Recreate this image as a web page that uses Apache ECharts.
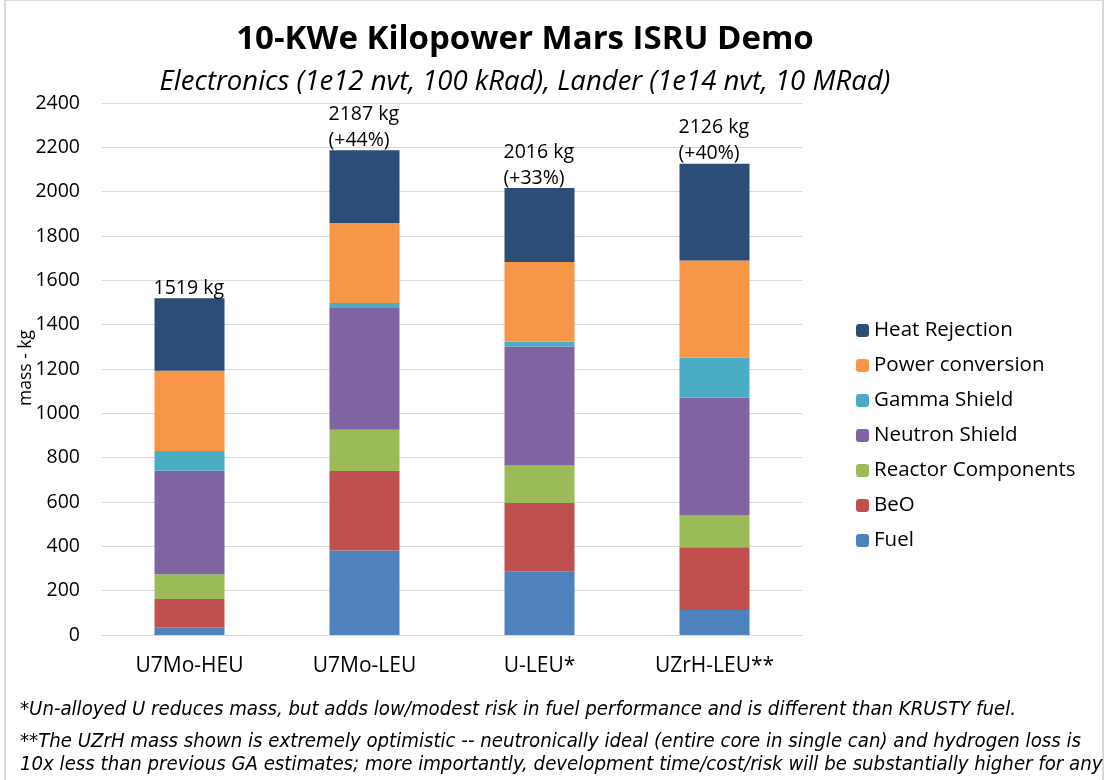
<!DOCTYPE html>
<html>
<head>
    <meta charset="utf-8">
    <title>Kilopower Mars ISRU</title>
    <script src="https://cdn.jsdelivr.net/npm/echarts@6/dist/echarts.min.js"></script>
    <style type="text/css">
    html,body{margin:0;padding:0;background:#fff;}
    #main{width:1107px;height:780px;}
    </style>
</head>
<body>
<div id="main"></div>
<script>
    var categories = ['U7Mo-HEU', 'U7Mo-LEU', 'U-LEU*', 'UZrH-LEU**'];
    var fuel       = [35, 381, 288, 113];
    var beo        = [127, 359, 308, 283];
    var reactor    = [112, 186, 169, 143];
    var neutron    = [467, 549, 536, 531];
    var gamma      = [89, 23, 22, 181];
    var power      = [362, 361, 360, 438];
    var heat       = [327, 328, 333, 437];
    var totalLabels = ['1519 kg', '2187 kg\n(+44%)', '2016 kg\n(+33%)', '2126 kg\n(+40%)'];
    var yTicks = [0, 2400, 200];

    var font = '"Open Sans", Lato, sans-serif';
    var noteFont = 'italic 20.2px "Liberation Sans Narrow", "DejaVu Sans Condensed", sans-serif';
    var chart = echarts.init(document.getElementById('main'));

    function mk(name, data, color) {
        return {
            name: name, type: 'bar', stack: 'mass', data: data,
            barWidth: '40%',
            itemStyle: { color: color },
            emphasis: { disabled: true }
        };
    }

    var series = [
        mk('Fuel', fuel, '#4F81BD'),
        mk('BeO', beo, '#C0504D'),
        mk('Reactor Components', reactor, '#9BBB59'),
        mk('Neutron Shield', neutron, '#8064A2'),
        mk('Gamma Shield', gamma, '#4BACC6'),
        mk('Power conversion', power, '#F79646'),
        mk('Heat Rejection', heat, '#2C4D75')
    ];
    // totals above the last stacked segment
    series[6].label = {
        show: true, position: 'top', distance: -3,
        color: '#000', fontFamily: font, fontSize: 19.5, lineHeight: 26, align: 'left',
        offset: [-36, 0],
        formatter: function (p) { return totalLabels[p.dataIndex]; }
    };

    var option = {
        backgroundColor: '#fff',
        animation: false,
        title: [{
            text: '10-KWe Kilopower Mars ISRU Demo',
            left: 520, top: 18, textAlign: 'center',
            textStyle: { fontFamily: font, fontSize: 33, fontWeight: 'bold', color: '#000' }
        }, {
            text: 'Electronics (1e12 nvt, 100 kRad), Lander (1e14 nvt, 10 MRad)',
            left: 520, top: 64, textAlign: 'center',
            textStyle: { fontFamily: font, fontSize: 27.5, fontStyle: 'italic', fontWeight: 'normal', color: '#000' }
        }],
        legend: {
            orient: 'vertical', left: 851, top: 315, itemGap: 14,
            itemWidth: 13, itemHeight: 13,
            data: ['Heat Rejection', 'Power conversion', 'Gamma Shield', 'Neutron Shield', 'Reactor Components', 'BeO', 'Fuel'],
            textStyle: { fontFamily: font, fontSize: 20.5, color: '#000' }
        },
        grid: { left: 102, right: 305, top: 103, bottom: 145 },
        xAxis: {
            type: 'category', data: categories,
            axisTick: { show: false },
            axisLine: { lineStyle: { color: '#d9d9d9' } },
            axisLabel: { fontFamily: font, fontSize: 21, color: '#000', margin: 21 }
        },
        yAxis: {
            type: 'value', min: yTicks[0], max: yTicks[1], interval: yTicks[2],
            axisLabel: { fontFamily: font, fontSize: 19.5, color: '#000', margin: 22, formatter: function (v) { return String(v); } },
            splitLine: { lineStyle: { color: '#d9d9d9' } }
        },
        graphic: [
            { type: 'rect', shape: { x: 5, y: 0, width: 1098, height: 790 }, style: { fill: 'none', stroke: '#d9d9d9', lineWidth: 2 }, silent: true },
            // y axis title, drawn over the tick labels like the original
            { type: 'text', x: 26, y: 368, rotation: Math.PI / 2, style: { text: 'mass - kg', font: '17.5px "Open Sans", sans-serif', fill: '#000', align: 'center', verticalAlign: 'middle' } },
            { type: 'text', left: 20, top: 700, style: { text: '*Un-alloyed U reduces mass, but adds low/modest risk in fuel performance and is different than KRUSTY fuel.', font: noteFont, fill: '#000' } },
            { type: 'text', left: 20, top: 732, style: { text: '**The UZrH mass shown is extremely optimistic -- neutronically ideal (entire core in single can) and hydrogen loss is', font: noteFont, fill: '#000' } },
            { type: 'text', left: 20, top: 755, style: { text: '10x less than previous GA estimates; more importantly, development time/cost/risk will be substantially higher for any', font: noteFont, fill: '#000' } }
        ],
        series: series
    };
    chart.setOption(option);
</script>
</body>
</html>
